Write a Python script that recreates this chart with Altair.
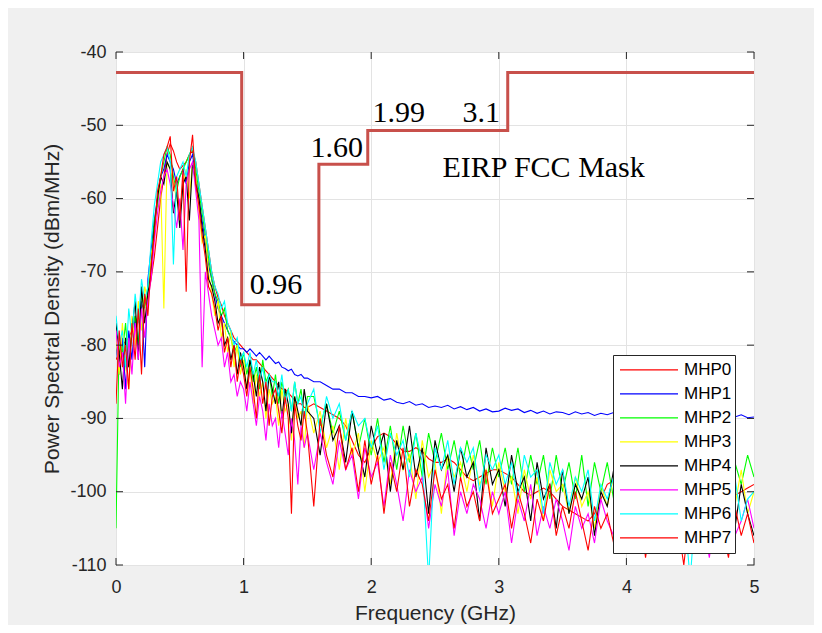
import altair as alt
import pandas as pd

# sampling grid of the spectra (GHz): fine up to 1.5 GHz, coarser above
freq = [i / 40 for i in range(61)] + [1.5 + i / 20 for i in range(1, 71)]

names = ["MHP0", "MHP1", "MHP2", "MHP3", "MHP4", "MHP5", "MHP6", "MHP7"]
colors = ["#ff0000", "#0000ff", "#00ff00", "#ffff00", "#000000", "#ff00ff", "#00ffff", "#ff0000"]

# ---- 0 .. 1.5 GHz (step 0.025) ----
mhp0_lo = [-82, -81, -80, -79.5, -79, -78, -77, -76, -75, -74,
           -73, -71, -68, -64, -60, -57, -54, -52.5, -53.5, -55,
           -56, -55.5, -55, -54, -53.5, -55, -58, -61, -64, -67,
           -70, -72, -73.5, -74.5, -76, -77, -78, -79, -79.5, -80,
           -80.5, -81, -81.5, -82, -82, -82.5, -83, -83.5, -84, -84.5,
           -85, -85.5, -86, -86, -86.5, -87, -87.5, -88, -88, -88.5,
           -88.5]
mhp1_lo = [-80, -84, -79, -86, -78, -82, -76, -80, -74, -83,
           -71, -67, -63, -60, -57, -56, -54, -55, -56, -58,
           -57, -56, -58, -55, -54, -57, -60, -63, -66, -69,
           -71, -73, -75, -76, -77, -78, -79, -79.5, -80, -80.5,
           -80.5, -81, -80.5, -81, -81.5, -81, -81.5, -82, -81.5, -82,
           -82.5, -82.3, -83, -83.2, -83.5, -83.3, -84, -84.2, -84, -84.5,
           -84.5]
mhp2_lo = [-105, -79, -81, -77, -83, -78, -76, -80, -73, -75,
           -72, -69, -63, -61, -57, -55, -53, -54, -57, -59,
           -57, -56, -55, -54, -53, -56, -59, -62, -65, -68,
           -71, -73, -74, -76, -75, -78, -79, -81, -80, -83,
           -81, -84, -82, -85, -83, -86, -82, -85, -84, -87,
           -84, -88, -85, -87, -86, -89, -85, -88, -86, -90,
           -87]
mhp3_lo = [-79, -84, -77, -83, -86, -76, -80, -74, -78, -72,
           -74, -68, -65, -60, -58, -75, -55, -56, -58, -60,
           -62, -58, -56, -60, -55, -57, -62, -66, -65, -70,
           -73, -76, -74, -79, -77, -81, -78, -83, -80, -84,
           -82, -86, -83, -88, -84, -87, -85, -90, -86, -88,
           -87, -91, -86, -89, -88, -93, -87, -90, -89, -94,
           -88]
mhp4_lo = [-77, -81, -86, -79, -83, -78, -74, -82, -72, -77,
           -73, -70, -64, -60, -57, -58, -55, -56, -62, -59,
           -64, -58, -57, -63, -55, -58, -60, -64, -67, -71,
           -72, -74, -77, -76, -80, -79, -82, -80, -84, -81,
           -83, -86, -82, -84, -87, -83, -85, -89, -84, -86,
           -88, -85, -90, -86, -88, -92, -87, -89, -91, -86,
           -89]
mhp5_lo = [-78, -83, -81, -88, -79, -84, -77, -82, -75, -79,
           -74, -71, -66, -62, -59, -57, -56, -58, -61, -64,
           -60, -67, -58, -56, -55, -59, -63, -83, -70, -73,
           -76, -78, -80, -79, -83, -81, -85, -84, -87, -85,
           -86, -89, -85, -88, -91, -87, -89, -93, -88, -91,
           -90, -94, -89, -92, -95, -90, -93, -99, -91, -94,
           -92]
mhp6_lo = [-76, -80, -78, -83, -75, -79, -73, -77, -71, -74,
           -72, -66, -61, -58, -55, -54, -53, -55, -69, -57,
           -56, -55, -57, -54, -53, -55, -58, -61, -64, -67,
           -70, -72, -73, -75, -74, -77, -78, -80, -79, -82,
           -81, -83, -81, -84, -82, -85, -83, -86, -84, -85,
           -85, -87, -84, -88, -86, -89, -85, -88, -87, -90,
           -88]
mhp7_lo = [-88, -78, -83, -80, -86, -77, -82, -75, -84, -73,
           -76, -69, -65, -59, -57, -54, -53, -51.5, -59, -57,
           -63, -56, -72.7, -55, -51.3, -58, -61, -65, -68, -72,
           -73, -75, -78, -76, -81, -79, -83, -80, -85, -82,
           -84, -87, -83, -86, -90, -84, -88, -85, -91, -87,
           -86, -89, -92, -87, -90, -103, -88, -91, -93, -89,
           -92]

# ---- 1.55 .. 5.0 GHz (step 0.05) ----
mhp0_hi = [-88, -88.5, -89, -89.5, -90, -91, -93, -95, -96,
           -94, -92.5, -92, -92.5, -93.5, -94.5, -94.5, -94, -94.5, -95.5,
           -96, -96, -95.5, -96, -97, -98, -98.5, -98, -97.5, -97,
           -97, -97.5, -98, -99, -100, -100.5, -100, -99.5, -100, -101,
           -102, -102.5, -103, -103.5, -104, -103, -101, -99, -98.5, -99,
           -100, -101, -101.5, -102, -101, -100.5, -101, -102, -103, -102.5,
           -102, -101, -100.5, -100.5, -101, -101.5, -101, -100.5, -100, -99.5,
           -99]
mhp1_hi = [-85, -85, -85.5, -86, -86, -86.5, -86.5, -87, -87,
           -87.2, -87, -87.5, -87.3, -87.8, -88, -87.7, -88.2, -88, -88.5,
           -88.3, -88.5, -88.2, -88.7, -88.4, -88.8, -88.5, -89, -88.7, -89.1,
           -89, -88.6, -88.9, -88.7, -89.2, -88.9, -89.3, -89, -89.4, -89.1,
           -89.2, -89.5, -89.1, -89.4, -89.2, -89.6, -89.3, -89.5, -89.2, -89.6,
           -89.4, -89.7, -89.3, -89.6, -89.4, -89.8, -89.5, -89.6, -89.3, -89.7,
           -89.5, -89.8, -89.4, -89.7, -89.5, -89.9, -89.6, -89.8, -89.5, -89.9,
           -89.8]
mhp2_hi = [-87, -91, -88, -92, -89, -93, -89, -94, -90,
           -95, -90, -96, -91, -97, -91, -96, -92, -98, -92,
           -96, -92, -97, -93, -98, -93, -97, -93, -99, -94,
           -98, -94, -99, -94, -100, -95, -99, -95, -101, -95,
           -100, -96, -101, -95, -102, -96, -100, -96, -101, -96,
           -101, -96, -100, -96, -102, -96, -101, -95, -102, -97,
           -100, -96, -101, -96, -102, -95, -100, -96, -99, -95,
           -98]
mhp3_hi = [-92, -89, -94, -91, -97, -90, -95, -92, -100,
           -93, -96, -94, -99, -92, -97, -95, -101, -93, -98,
           -96, -103, -95, -98, -96, -100, -95, -99, -97, -102,
           -96, -100, -98, -103, -97, -101, -98, -104, -97, -100,
           -99, -103, -98, -102, -100, -105, -99, -102, -98, -101,
           -100, -104, -99, -103, -101, -106, -99, -102, -100, -104,
           -100, -105, -99, -103, -101, -104, -98, -102, -97, -103,
           -100]
mhp4_hi = [-90, -95, -88, -93, -91, -96, -89, -94, -98,
           -91, -95, -92, -100, -93, -97, -91, -98, -94, -103,
           -93, -97, -95, -100, -94, -98, -96, -104, -94, -99,
           -97, -102, -95, -100, -98, -104, -96, -101, -99, -105,
           -97, -103, -99, -101, -98, -106, -100, -102, -97, -104,
           -101, -99, -105, -100, -103, -98, -107, -101, -104, -99,
           -106, -100, -103, -108, -99, -104, -101, -105, -99, -103,
           -106]
mhp5_hi = [-97, -92, -96, -99, -93, -97, -95, -101, -94,
           -98, -96, -102, -95, -99, -104, -97, -100, -98, -105,
           -99, -102, -97, -106, -100, -103, -99, -101, -105, -100,
           -103, -100, -107, -101, -104, -99, -106, -102, -105, -101,
           -104, -108, -102, -105, -103, -107, -101, -104, -106, -102,
           -105, -103, -108, -102, -106, -104, -101, -107, -103, -105,
           -102, -107, -104, -109, -103, -105, -102, -106, -104, -101,
           -105]
mhp6_hi = [-86, -92, -87, -90, -88, -93, -89, -91, -90,
           -94, -91, -97, -92, -95, -93, -98, -92, -96, -112,
           -94, -97, -93, -99, -94, -96, -94, -100, -95, -97,
           -95, -99, -96, -101, -95, -98, -97, -103, -96, -99,
           -97, -102, -98, -100, -97, -104, -99, -101, -98, -103,
           -99, -101, -98, -104, -99, -102, -100, -105, -99, -102,
           -112, -100, -103, -99, -106, -100, -102, -98, -104, -101,
           -100]
mhp7_hi = [-102, -90, -95, -98, -91, -97, -94, -100, -93,
           -99, -95, -103, -96, -100, -94, -102, -97, -99, -104,
           -97, -101, -99, -105, -98, -102, -100, -104, -97, -103,
           -101, -99, -105, -100, -103, -107, -101, -104, -99, -106,
           -102, -105, -100, -104, -108, -102, -105, -103, -107, -101,
           -104, -106, -102, -109, -103, -105, -101, -107, -104, -110,
           -102, -106, -103, -108, -101, -105, -109, -102, -106, -103,
           -107]

series = [mhp0_lo + mhp0_hi, mhp1_lo + mhp1_hi, mhp2_lo + mhp2_hi, mhp3_lo + mhp3_hi,
          mhp4_lo + mhp4_hi, mhp5_lo + mhp5_hi, mhp6_lo + mhp6_hi, mhp7_lo + mhp7_hi]
for s in series:
    assert len(s) == len(freq), (len(s), len(freq))

# FCC mask (step-after breakpoints)
mask_f = [0, 0.985, 1.59, 1.973, 3.07, 5]
mask_p = [-42.8, -74.5, -55.3, -50.7, -42.8, -42.8]

# annotations
ann_text = ["0.96", "1.60", "1.99", "3.1", "EIRP FCC Mask"]
ann_f = [1.048, 1.524, 2.010, 2.716, 2.559]
ann_p = [-72.96, -54.39, -49.49, -49.49, -57.12]

xticks = [0, 1, 2, 3, 4, 5]
yticks = [-110, -100, -90, -80, -70, -60, -50, -40]

W, H = 638, 513

rows = []
for n, vals in zip(names, series):
    for f, p in zip(freq, vals):
        rows.append({"s": n, "f": f, "p": p})
df = pd.DataFrame(rows)

xs = alt.Scale(domain=[0, 5], nice=False, zero=False)
ys = alt.Scale(domain=[-110, -40], nice=False, zero=False)

xaxis = alt.Axis(values=xticks, title="Frequency (GHz)", labelPadding=13, labelFlush=False,
                 labelExpr="'' + datum.value",
                 titleX=W / 2, titleY=54, titleBaseline="alphabetic")
yaxis = alt.Axis(values=yticks, title="Power Spectral Density (dBm/MHz)", labelPadding=10,
                 labelFlush=False, labelExpr="'' + datum.value", titleLimit=1000,
                 titleX=-58, titleY=H / 2, titleBaseline="alphabetic", titleAngle=270)

lines = alt.Chart(df).mark_line(strokeWidth=1.1, clip=True).encode(
    x=alt.X("f:Q", scale=xs, axis=xaxis),
    y=alt.Y("p:Q", scale=ys, axis=yaxis),
    color=alt.Color("s:N", scale=alt.Scale(domain=names, range=colors),
                    legend=alt.Legend(title=None, orient="none", legendX=497, legendY=303,
                                      fillColor="white", strokeColor="#262626",
                                      padding=3, symbolType="stroke", symbolSize=3364,
                                      symbolStrokeWidth=1.2, symbolOffset=3,
                                      labelFont="Liberation Sans", labelFontSize=17,
                                      labelColor="black", labelOffset=5,
                                      clipHeight=23.6, rowPadding=0)),
)

mask = alt.Chart(pd.DataFrame({"f": mask_f, "p": mask_p})).mark_line(
    color="#c8504b", strokeWidth=3, interpolate="step-after").encode(
    x=alt.X("f:Q", scale=xs), y=alt.Y("p:Q", scale=ys))

texts = alt.Chart(pd.DataFrame({"t": ann_text, "f": ann_f, "p": ann_p})).mark_text(
    font="Liberation Serif", fontSize=30, align="left", baseline="alphabetic", color="black").encode(
    x=alt.X("f:Q", scale=xs), y=alt.Y("p:Q", scale=ys), text="t:N")

xt = pd.DataFrame({"f": xticks})
yt = pd.DataFrame({"p": yticks})
tc = "#262626"
tick_b = alt.Chart(xt).mark_rule(color=tc, strokeWidth=1).encode(
    x=alt.X("f:Q", scale=xs), y=alt.value(H), y2=alt.value(H - 7))
tick_t = alt.Chart(xt).mark_rule(color=tc, strokeWidth=1).encode(
    x=alt.X("f:Q", scale=xs), y=alt.value(0), y2=alt.value(7))
tick_l = alt.Chart(yt).mark_rule(color=tc, strokeWidth=1).encode(
    y=alt.Y("p:Q", scale=ys), x=alt.value(0), x2=alt.value(7))
tick_r = alt.Chart(yt).mark_rule(color=tc, strokeWidth=1).encode(
    y=alt.Y("p:Q", scale=ys), x=alt.value(W), x2=alt.value(W - 7))

chart = alt.layer(lines, mask, texts, tick_b, tick_t, tick_l, tick_r).properties(
    width=W, height=H,
    padding={"left": 108, "top": 44, "right": 60, "bottom": 60},
    autosize=alt.AutoSizeParams(type="none"),
).configure(background="#f0f0f0").configure_view(
    fill="white", stroke="#262626", strokeWidth=1
).configure_axis(
    grid=True, gridColor="#e3e3e3", gridWidth=1, domain=False, ticks=False,
    labelFont="Liberation Sans", labelFontSize=18, labelColor="#262626",
    titleFont="Liberation Sans", titleFontSize=21, titleFontWeight="normal", titleColor="#262626",
)

chart.save("out.html", embed_options={"renderer": "svg", "actions": False})
